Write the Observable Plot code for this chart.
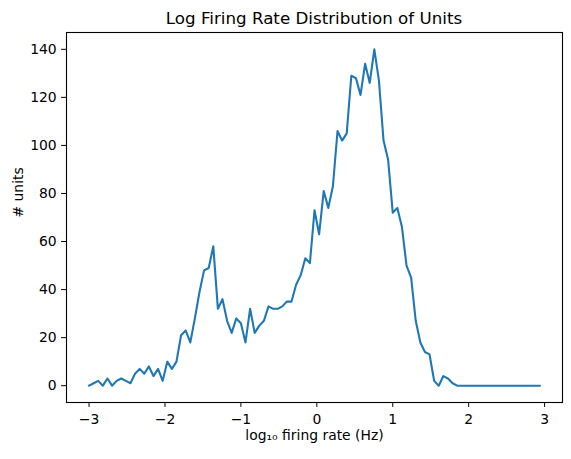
<!DOCTYPE html>
<html><head><meta charset="utf-8">
<script src="https://cdn.jsdelivr.net/npm/d3@7"></script>
<script src="https://cdn.jsdelivr.net/npm/@observablehq/plot@0.6"></script>
<style>
body{margin:0;background:#fff;font-family:"DejaVu Sans",sans-serif;}
#title{height:30px;box-sizing:border-box;padding-top:9.6px;margin-left:66px;width:496px;text-align:center;font-size:16.7px;line-height:1;color:#000;white-space:nowrap;}
</style></head><body>
<div id="title">Log Firing Rate Distribution of Units</div>
<div id="chart"></div>
<script>
const binLeft = [
 -3.0000,-2.9394,-2.8788,-2.8182,-2.7576,-2.6970,-2.6364,-2.5758,-2.5152,-2.4545,
 -2.3939,-2.3333,-2.2727,-2.2121,-2.1515,-2.0909,-2.0303,-1.9697,-1.9091,-1.8485,
 -1.7879,-1.7273,-1.6667,-1.6061,-1.5455,-1.4848,-1.4242,-1.3636,-1.3030,-1.2424,
 -1.1818,-1.1212,-1.0606,-1.0000,-0.9394,-0.8788,-0.8182,-0.7576,-0.6970,-0.6364,
 -0.5758,-0.5152,-0.4545,-0.3939,-0.3333,-0.2727,-0.2121,-0.1515,-0.0909,-0.0303,
 0.0303,0.0909,0.1515,0.2121,0.2727,0.3333,0.3939,0.4545,0.5152,0.5758,
 0.6364,0.6970,0.7576,0.8182,0.8788,0.9394,1.0000,1.0606,1.1212,1.1818,
 1.2424,1.3030,1.3636,1.4242,1.4848,1.5455,1.6061,1.6667,1.7273,1.7879,
 1.8485,1.9091,1.9697,2.0303,2.0909,2.1515,2.2121,2.2727,2.3333,2.3939,
 2.4545,2.5152,2.5758,2.6364,2.6970,2.7576,2.8182,2.8788,2.9394
];
const counts = [
 0,1,2,0,3,0,2,3,2,1,
 5,7,5,8,4,7,2,10,7,10,
 21,23,18,28,39,48,49,58,32,36,
 27,22,28,26,18,32,22,25,27,33,
 32,32,33,35,35,42,46,53,51,73,
 63,81,74,83,106,102,105,129,128,121,
 134,126,140,127,102,94,72,74,66,50,
 45,27,18,14,13,2,0,4,3,1,
 0,0,0,0,0,0,0,0,0,0,
 0,0,0,0,0,0,0,0,0
];
const xTicks = [-3,-2,-1,0,1,2,3];
const yTicks = [0,20,40,60,80,100,120,140];
const xLabel = "log\u2081\u2080 firing rate (Hz)";
const yLabel = "# units";

const data = binLeft.map((x, i) => ({x, n: counts[i]}));

const plot = Plot.plot({
  width: 571, height: 429,
  marginLeft: 66, marginRight: 9, marginTop: 2, marginBottom: 57,
  style: {fontFamily: "DejaVu Sans", fontSize: "13.9px", color: "black", background: "white", overflow: "visible"},
  x: {domain: [-3.297, 3.236]},
  y: {domain: [-7, 147]},
  marks: [
    Plot.axisX({ticks: xTicks, tickSize: 4.9, tickPadding: 6.5, label: null, tickFormat: d3.format("d")}),
    Plot.axisY({ticks: yTicks, tickSize: 4.9, tickPadding: 4.9, label: null, tickFormat: d3.format("d")}),
    Plot.line(data, {x: "x", y: "n", stroke: "#1f77b4", strokeWidth: 2.08}),
    Plot.frame({stroke: "black", strokeWidth: 1.1}),
    Plot.text([xLabel], {frameAnchor: "bottom", dy: 37, text: d => d, fontSize: 13.9, fill: "black"}),
    Plot.text([yLabel], {frameAnchor: "left", dx: -48, rotate: -90, text: d => d, fontSize: 13.9, fill: "black"})
  ]
});
document.getElementById("chart").appendChild(plot);
</script>
</body></html>
